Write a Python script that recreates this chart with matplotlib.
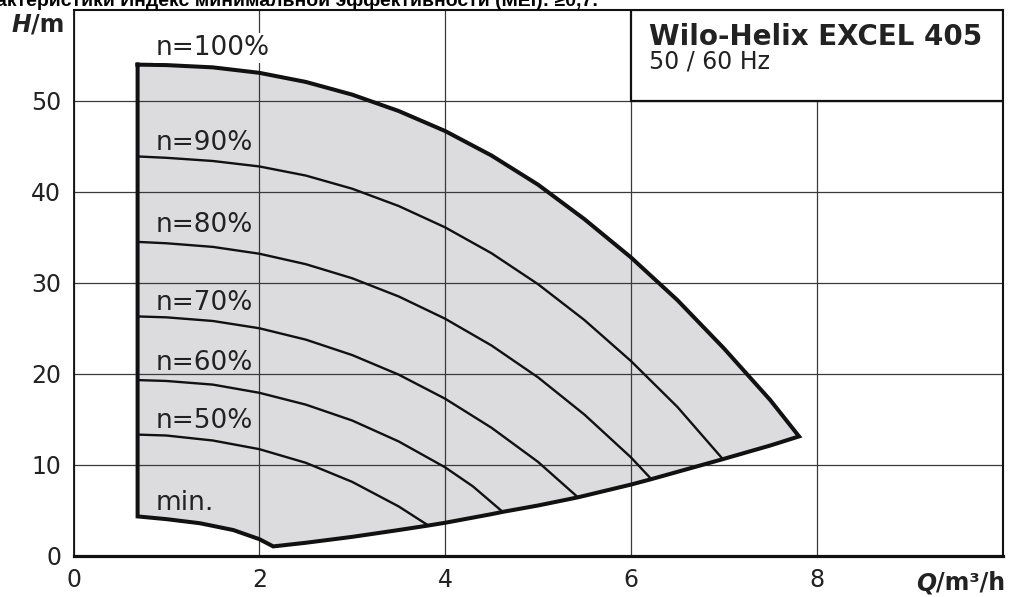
import matplotlib
matplotlib.use("Agg")
import matplotlib.pyplot as plt
from matplotlib.patches import Rectangle

# pump curves (Q in m3/h, H in m)
q_100 = [0.69, 1.0, 1.5, 2.0, 2.5, 3.0, 3.5, 4.0, 4.5, 5.0, 5.5, 6.0, 6.5, 7.0, 7.5, 7.81]
h_100 = [54.0, 53.95, 53.7, 53.1, 52.1, 50.7, 48.9, 46.7, 44.0, 40.8, 37.0, 32.8, 28.1, 22.8, 17.1, 13.1]

q_90 = [0.69, 1.0, 1.5, 2.0, 2.5, 3.0, 3.5, 4.0, 4.5, 5.0, 5.5, 6.0, 6.5, 6.99]
h_90 = [43.9, 43.75, 43.4, 42.8, 41.8, 40.35, 38.45, 36.1, 33.25, 29.85, 25.9, 21.4, 16.35, 10.6]

q_80 = [0.69, 1.0, 1.5, 2.0, 2.5, 3.0, 3.5, 4.0, 4.5, 5.0, 5.5, 6.0, 6.22]
h_80 = [34.5, 34.35, 33.95, 33.2, 32.05, 30.5, 28.5, 26.05, 23.1, 19.6, 15.5, 10.8, 8.4]

q_70 = [0.69, 1.0, 1.5, 2.0, 2.5, 3.0, 3.5, 4.0, 4.5, 5.0, 5.43]
h_70 = [26.3, 26.2, 25.8, 25.0, 23.75, 22.05, 19.9, 17.25, 14.05, 10.3, 6.4]

q_60 = [0.69, 1.0, 1.5, 2.0, 2.5, 3.0, 3.5, 4.0, 4.3, 4.62]
h_60 = [19.3, 19.2, 18.8, 17.9, 16.6, 14.85, 12.55, 9.7, 7.6, 4.8]

q_50 = [0.69, 1.0, 1.5, 2.0, 2.5, 3.0, 3.5, 3.82]
h_50 = [13.3, 13.2, 12.65, 11.7, 10.2, 8.1, 5.4, 3.3]

# lower limit (right part) and min. speed curve
q_sys = [2.15, 2.5, 3.0, 3.5, 3.82, 4.0, 4.5, 4.62, 5.0, 5.43, 6.0, 6.22, 6.5, 6.99, 7.5, 7.81]
h_sys = [1.0, 1.4, 2.05, 2.8, 3.3, 3.6, 4.55, 4.8, 5.5, 6.4, 7.8, 8.4, 9.2, 10.6, 12.1, 13.1]

q_min = [0.69, 1.0, 1.36, 1.72, 2.0, 2.15]
h_min = [4.3, 4.0, 3.55, 2.8, 1.8, 1.0]

speed_labels = ["n=100%", "n=90%", "n=80%", "n=70%", "n=60%", "n=50%", "min."]
label_y = [55.1, 44.6, 35.6, 27.0, 20.4, 14.0, 5.0]

x_ticks = [0, 2, 4, 6, 8]
y_ticks = [0, 10, 20, 30, 40, 50]

W, H = 1009, 597
fig = plt.figure(figsize=(W / 100, H / 100), dpi=100)
ax = fig.add_axes([73.5 / W, 41.5 / H, 929 / W, 545.4 / H])
ax.set_xlim(0, 10)
ax.set_ylim(0, 60)

# working range outline
qx = q_100 + q_sys[::-1] + q_min[::-1]
hy = h_100 + h_sys[::-1] + h_min[::-1]
ax.fill(qx, hy, color="#dcdcde", lw=0, zorder=1)
ax.plot(qx + [qx[0]], hy + [hy[0]], color="#111111", lw=2.9,
        solid_joinstyle="miter", zorder=3)

for q, h in [(q_90, h_90), (q_80, h_80), (q_70, h_70), (q_60, h_60), (q_50, h_50)]:
    ax.plot(q, h, color="#111111", lw=1.7, solid_joinstyle="round", zorder=3)

for i, lab in enumerate(speed_labels):
    t = ax.text(0.88, label_y[i], lab, fontsize=19, color="#222222",
                va="baseline", ha="left", zorder=5)
    if i == 0:
        t.set_bbox(dict(facecolor="white", edgecolor="none", pad=1.5))

# type box
ax.add_patch(Rectangle((6, 50), 4, 10, facecolor="white", edgecolor="#111111",
                       lw=1.6, zorder=4))
ax.text(6.2, 56.2, "Wilo-Helix EXCEL 405", fontsize=20, fontweight="bold",
        color="#222222", va="baseline", zorder=5)
ax.text(6.2, 53.6, "50 / 60 Hz", fontsize=17, color="#222222",
        va="baseline", zorder=5)

ax.set_xticks(x_ticks)
ax.set_yticks(y_ticks)
ax.tick_params(length=0, labelsize=17, labelcolor="#222222", pad=9)
ax.grid(True, color="#3a3a3a", lw=0.9)

for side, w in [("left", 1.3), ("top", 1.5), ("right", 1.5), ("bottom", 2.3)]:
    ax.spines[side].set_linewidth(w)
    ax.spines[side].set_color("#111111")

# axis titles
fig.text(12 / W, 1 - 32 / H, "H", fontsize=17, fontweight="bold", style="italic",
         color="#222222", va="baseline")
fig.text(31 / W, 1 - 32 / H, "/m", fontsize=17, fontweight="bold",
         color="#222222", va="baseline")
fig.text(916 / W, 1 - 590 / H, "Q", fontsize=17, fontweight="bold", style="italic",
         color="#222222", va="baseline")
fig.text(936 / W, 1 - 590 / H, "/m³/h", fontsize=17, fontweight="bold",
         color="#222222", va="baseline")

# heading cut off at the top of the scan
fig.text(-4 / W, 1 - 6 / H, "актеристики Индекс минимальной эффективности (MEI): ≥0,7.",
         fontsize=14, fontweight="bold", family=["Liberation Sans", "DejaVu Sans"],
         color="black", va="baseline")

fig.savefig("out.png", dpi=100)
